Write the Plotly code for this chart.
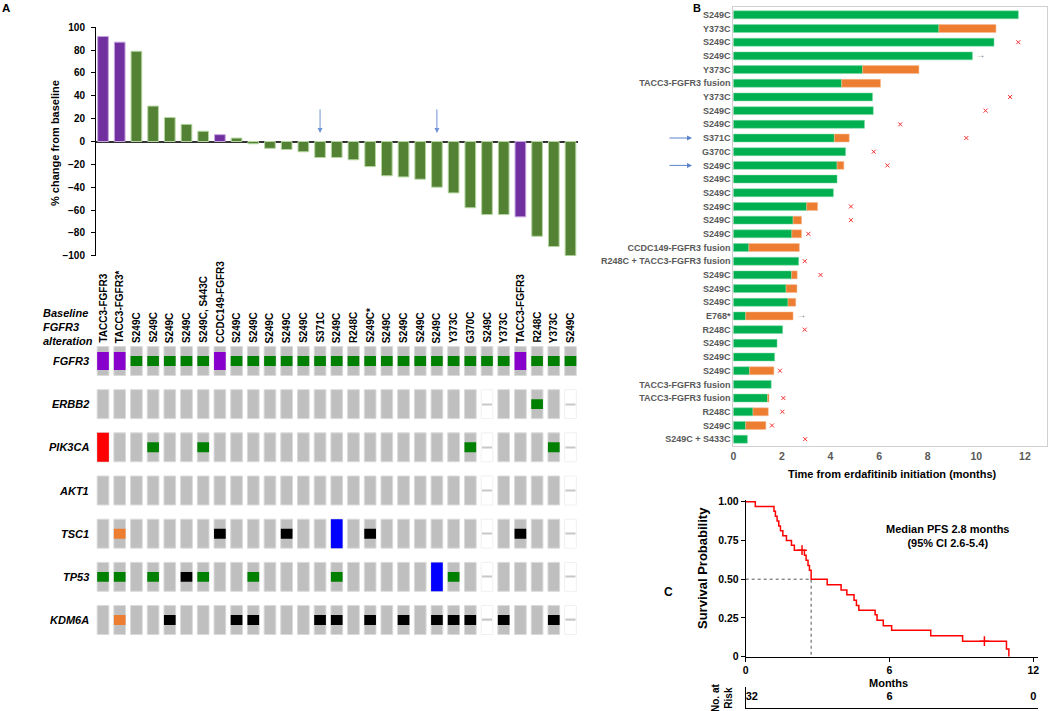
import plotly.graph_objects as go

W, H = 1050, 711
def px(v): return v / W
def py(v): return 1 - v / H

FONT = "Liberation Sans, Arial, Helvetica, sans-serif"

# ---------------- Panel A : waterfall ----------------
col_labels = ["TACC3-FGFR3", "TACC3-FGFR3*", "S249C", "S249C", "S249C", "S249C",
              "S249C, S443C", "CCDC149-FGFR3", "S249C", "S249C", "S249C", "S249C",
              "S249C", "S371C", "S249C", "R248C", "S249C*", "S249C", "S249C", "S249C",
              "S249C", "Y373C", "G370C", "S249C", "Y373C", "TACC3-FGFR3", "R248C",
              "Y373C", "S249C"]
pct_change = [92, 87, 79, 31, 21, 15, 9, 6, 3, -2, -6, -7, -9, -14, -14, -16, -22,
              -30, -31, -33, -40, -45, -58, -64, -64, -66, -83, -92, -100]
arrow_cols = [13, 20]
wf_ticks = [-100, -80, -60, -40, -20, 0, 20, 40, 60, 80, 100]

# ---------------- Panel A : oncoprint ----------------
genes = ["FGFR3", "ERBB2", "PIK3CA", "AKT1", "TSC1", "TP53", "KDM6A"]
alt_FGFR3 = "FFMMMMMFMM" "MMMMMMMMMM" "MMMMMFMMM"
alt_ERBB2 = ".........." ".........." "...-..M.-"
alt_PIK3CA = "A..M..M..." ".........." "..M-...M-"
alt_AKT1 = ".........." ".........." "...-....-"
alt_TSC1 = ".O.....T.." ".T..D.T..." "...-.T..-"
alt_TP53 = "MM.M.TM..M" "....M....." "DM.-....-"
alt_KDM6A = ".O..T...TT" "...TT.T.T." "TTT-T..T-"
alterations = [alt_FGFR3, alt_ERBB2, alt_PIK3CA, alt_AKT1, alt_TSC1, alt_TP53, alt_KDM6A]

# ---------------- Panel B : swimmer ----------------
sw_labels = ["S249C", "Y373C", "S249C", "S249C", "Y373C", "TACC3-FGFR3 fusion", "Y373C",
             "S249C", "S249C", "S371C", "G370C", "S249C", "S249C", "S249C", "S249C",
             "S249C", "S249C", "CCDC149-FGFR3 fusion", "R248C + TACC3-FGFR3 fusion",
             "S249C", "S249C", "S249C", "E768*", "R248C", "S249C", "S249C", "S249C",
             "TACC3-FGFR3 fusion", "TACC3-FGFR3 fusion", "R248C", "S249C", "S249C + S433C"]
sw_green = [11.73, 8.46, 10.73, 9.84, 5.32, 4.46, 5.73, 5.76, 5.40, 4.16, 4.62, 4.27,
            4.27, 4.12, 3.02, 2.46, 2.41, 0.64, 2.69, 2.40, 2.17, 2.25, 0.51, 2.03,
            1.80, 1.70, 0.67, 1.56, 1.41, 0.81, 0.51, 0.58]
sw_orange_end = [None, 10.81, None, None, 7.64, 6.06, None, None, None, 4.77, None, 4.55,
                 None, None, 3.47, 2.81, 2.81, 2.72, None, 2.63, 2.62, 2.57, 2.46, None,
                 None, None, 1.67, None, 1.47, 1.44, 1.34, None]
sw_xmark = [None, None, 11.73, None, None, None, 11.39, 10.38, 6.87, 9.59, 5.78, 6.34,
            None, None, 4.84, 4.84, 3.09, None, 2.94, 3.59, None, None, None, 2.94,
            None, None, 1.92, None, 2.06, 2.02, 1.59, 2.96]
sw_ongoing = [None, None, None, 10.17, None, None, None, None, None, None, None, None,
              None, None, None, None, None, None, None, None, None, None, 2.81, None,
              None, None, None, None, None, None, None, None]
sw_blue_rows = [9, 11]
sw_ticks = [0, 2, 4, 6, 8, 10, 12]

# ---------------- Panel C : Kaplan-Meier ----------------
km_time = [0, 0.40, 1.18, 1.24, 1.31, 1.38, 1.45, 1.55, 1.70, 1.91, 2.03, 2.45, 2.52,
           2.60, 2.66, 2.73, 3.40, 3.98, 4.22, 4.52, 4.62, 4.72, 5.40, 5.48, 5.74,
           6.09, 7.72, 9.05, 10.88, 10.98]
km_surv = [1.00, 0.969, 0.938, 0.906, 0.875, 0.844, 0.813, 0.781, 0.75, 0.719, 0.6875,
           0.655, 0.622, 0.589, 0.557, 0.50, 0.465, 0.43, 0.40, 0.365, 0.33, 0.30, 0.27,
           0.235, 0.20, 0.17, 0.135, 0.10, 0.05, 0.0]
km_censor_t = [2.35, 9.96]
km_censor_s = [0.6875, 0.10]
median_pfs = 2.73
risk_times = [0, 6, 12]
risk_n = [32, 6, 0]

# ---------------- colours ----------------
WF_GREEN, WF_PURPLE = "#548235", "#7030A0"
ONC_GRAY = "#BFBFBF"
code_style = {  # colour, height (row units)
    "M": ("#008000", 0.23),
    "F": ("#8800CC", 0.42),
    "A": ("#FF0000", 0.67),
    "D": ("#0000FF", 0.67),
    "T": ("#000000", 0.23),
    "O": ("#ED7D31", 0.23),
}
SW_GREEN, SW_ORANGE = "#00B050", "#ED7D31"
GRAYTXT = "#595959"

fig = go.Figure()

# ---- waterfall bars
n = len(col_labels)
xs = list(range(n))
is_fusion = ["FGFR3" in lab for lab in col_labels]
fig.add_trace(go.Bar(
    x=xs, y=pct_change, width=0.64, xaxis="x", yaxis="y", showlegend=False,
    marker=dict(color=[WF_PURPLE if f else WF_GREEN for f in is_fusion],
                line=dict(color=["#C7A6DE" if f else "#B5D6A0" for f in is_fusion], width=1)),
))

# ---- oncoprint cells
CELL_H = 0.67
gx, gb, mx, mb = [], [], [], []
for r, s in enumerate(alterations):
    for c, ch in enumerate(s):
        if ch == "-":
            mx.append(c); mb.append(r)
        else:
            gx.append(c); gb.append(r)
fig.add_trace(go.Bar(x=gx, y=[CELL_H] * len(gx), base=[b - CELL_H / 2 for b in gb],
                     width=0.70, xaxis="x2", yaxis="y2", showlegend=False,
                     marker=dict(color=ONC_GRAY, line=dict(color="#DADADA", width=1))))
fig.add_trace(go.Bar(x=mx, y=[CELL_H] * len(mx), base=[b - CELL_H / 2 for b in mb],
                     width=0.70, xaxis="x2", yaxis="y2", showlegend=False,
                     marker=dict(color="white", line=dict(color="#F0F0F0", width=1))))
fig.add_trace(go.Bar(x=mx, y=[0.035] * len(mx), base=[b - 0.0175 for b in mb],
                     width=0.6, xaxis="x2", yaxis="y2", showlegend=False,
                     marker=dict(color="#C8C8C8", line=dict(width=0))))
for code, (colr, hgt) in code_style.items():
    cx, cb = [], []
    for r, s in enumerate(alterations):
        for c, ch in enumerate(s):
            if ch == code:
                cx.append(c); cb.append(r - hgt / 2)
    fig.add_trace(go.Bar(x=cx, y=[hgt] * len(cx), base=cb, width=0.70,
                         xaxis="x2", yaxis="y2", showlegend=False,
                         marker=dict(color=colr, line=dict(width=0))))

# ---- swimmer
rows = list(range(len(sw_labels)))
fig.add_trace(go.Bar(y=rows, x=sw_green, base=[0] * len(rows), orientation="h", width=0.58,
                     xaxis="x3", yaxis="y3", showlegend=False,
                     marker=dict(color=SW_GREEN, line=dict(color="#7FD8A6", width=0.5))))
oy = [r for r, o in zip(rows, sw_orange_end) if o is not None]
ob = [g for g, o in zip(sw_green, sw_orange_end) if o is not None]
ol = [o - g for g, o in zip(sw_green, sw_orange_end) if o is not None]
fig.add_trace(go.Bar(y=oy, x=ol, base=ob, orientation="h", width=0.58,
                     xaxis="x3", yaxis="y3", showlegend=False,
                     marker=dict(color=SW_ORANGE, line=dict(color="#F6BE98", width=0.5))))
fig.add_trace(go.Scatter(
    x=[v for v in sw_xmark if v is not None],
    y=[r for r, v in zip(rows, sw_xmark) if v is not None],
    mode="markers", xaxis="x3", yaxis="y3", showlegend=False,
    marker=dict(symbol="x-thin", size=4, line=dict(color="#F23030", width=1))))
fig.add_trace(go.Scatter(
    x=[v for v in sw_ongoing if v is not None],
    y=[r for r, v in zip(rows, sw_ongoing) if v is not None],
    mode="text", text=["→"] * 2, xaxis="x3", yaxis="y3", showlegend=False,
    textfont=dict(family=FONT, size=10, color="#7F7F7F")))

# ---- KM
fig.add_trace(go.Scatter(x=[0, median_pfs, median_pfs], y=[0.5, 0.5, 0], mode="lines",
                         xaxis="x4", yaxis="y4", showlegend=False,
                         line=dict(color="#555555", width=1, dash="dot")))
fig.add_trace(go.Scatter(x=km_time, y=km_surv, mode="lines", line_shape="hv",
                         xaxis="x4", yaxis="y4", showlegend=False,
                         line=dict(color="#FF0000", width=1.5)))
fig.add_trace(go.Scatter(x=km_censor_t, y=km_censor_s, mode="markers",
                         xaxis="x4", yaxis="y4", showlegend=False, cliponaxis=False,
                         marker=dict(symbol="cross-thin", size=7,
                                     line=dict(color="#FF0000", width=1.5))))
fig.add_trace(go.Scatter(x=risk_times, y=[0.5] * 3, mode="text",
                         text=[str(v) for v in risk_n],
                         textposition=["middle right", "middle center", "middle center"],
                         xaxis="x5", yaxis="y5", showlegend=False, cliponaxis=False,
                         textfont=dict(family=FONT, size=11, color="black", weight="bold")))

# ---------------- layout ----------------
hidden = dict(visible=False, showgrid=False, zeroline=False)
bold10 = dict(family=FONT, size=10, color="black", weight="bold")
common = dict(automargin=False)

fig.update_layout(
    template="none",
    width=W, height=H, margin=dict(l=0, r=0, t=0, b=0, pad=0, autoexpand=False),
    paper_bgcolor="white", plot_bgcolor="white", barmode="overlay",
    font=dict(family=FONT, color="black"), showlegend=False,
    xaxis=dict(domain=[px(96), px(578)], range=[-0.42, 28.45], anchor="y", **hidden, **common),
    yaxis=dict(domain=[py(255.7), py(27.3)], range=[-100, 100], anchor="x",
               tickvals=wf_ticks, ticks="outside", ticklen=4, tickcolor="black",
               showline=True, linecolor="black", linewidth=1, showgrid=False,
               zeroline=True, zerolinecolor="#333333", zerolinewidth=1.5,
               tickfont=bold10, ticklabelstandoff=4, **common),
    xaxis2=dict(domain=[px(96), px(578)], range=[-0.42, 28.45], anchor="y2", **hidden, **common),
    yaxis2=dict(domain=[py(641.6), py(339.4)], range=[6.5, -0.5], anchor="x2", **hidden, **common),
    xaxis3=dict(domain=[px(733.3), px(1047)], range=[0, 12.91], anchor="y3",
                tickvals=sw_ticks, showline=True, mirror=True, linecolor="#D0D0D0",
                showgrid=False, zeroline=False, ticks="",
                tickfont=dict(family=FONT, size=10.5, color=GRAYTXT, weight="bold"), **common),
    yaxis3=dict(domain=[py(446), py(7.3)], range=[31.5, -0.55], anchor="x3",
                tickvals=rows, ticktext=sw_labels, showline=True, mirror=True,
                linecolor="#D0D0D0", showgrid=False, zeroline=False, ticks="",
                tickfont=dict(family=FONT, size=9, color=GRAYTXT, weight="bold"), **common),
    xaxis4=dict(domain=[px(745.7), px(1038.1)], range=[0, 12.2], anchor="y4",
                tickvals=[0, 6, 12], ticks="outside", ticklen=4, tickcolor="black",
                showline=True, linecolor="black", linewidth=1, showgrid=False,
                zeroline=False, tickfont=dict(family=FONT, size=10.5, color="black", weight="bold"),
                **common),
    yaxis4=dict(domain=[py(656.7), py(500.15)], range=[0, 1.01], anchor="x4",
                tickvals=[0, 0.25, 0.5, 0.75, 1.0],
                ticktext=["0", "0.25", "0.50", "0.75", "1.00"],
                ticks="outside", ticklen=4, tickcolor="black",
                showline=True, linecolor="black", linewidth=1, showgrid=False,
                zeroline=False, tickfont=dict(family=FONT, size=10.5, color="black", weight="bold"),
                **common),
    xaxis5=dict(domain=[px(745.7), px(1038.1)], range=[0, 12.2], anchor="y5",
                showline=True, linecolor="black", linewidth=1, showgrid=False,
                zeroline=False, showticklabels=False, ticks="", **common),
    yaxis5=dict(domain=[py(708), py(687)], range=[0, 1], anchor="x5",
                showline=True, linecolor="black", linewidth=1, showgrid=False,
                zeroline=False, showticklabels=False, ticks="", **common),
)

ann = []
def txt(x, y, text, size=11, color="black", xanchor="center", yanchor="middle",
        angle=0, xref="paper", yref="paper", bold=True, italic=False, align="center"):
    ann.append(dict(x=x, y=y, xref=xref, yref=yref, text=text, showarrow=False,
                    xanchor=xanchor, yanchor=yanchor, textangle=angle, align=align,
                    font=dict(family=FONT, size=size, color=color,
                              weight="bold" if bold else "normal",
                              style="italic" if italic else "normal")))

# panel letters
txt(px(6), py(0), "A", size=11.5, yanchor="top")
txt(px(697), py(0), "B", size=11, yanchor="top")
txt(px(668), py(592), "C", size=12)

# waterfall axis title
txt(px(55), py(143), "% change from baseline", size=11, angle=-90)
# arrows in waterfall
for c in arrow_cols:
    ann.append(dict(x=c, y=7.5, xref="x", yref="y", ax=0, ay=-25, showarrow=True,
                    arrowhead=2, arrowsize=1, arrowwidth=1, arrowcolor="#6F93D3", text=""))

# column labels
for i, lab in enumerate(col_labels):
    txt(i, py(345), lab, size=10, angle=-90, xref="x", yanchor="bottom")

# Baseline FGFR3 alteration
for yy, t in zip([313, 327, 341], ["Baseline", "FGFR3", "alteration"]):
    txt(px(41), py(yy), t, size=11, xanchor="left", italic=True)

# gene labels
for r, g in enumerate(genes):
    txt(px(91), r, g, size=11, xanchor="right", yref="y2", italic=True)

# swimmer title and blue arrows
txt(px(892), py(474), "Time from erdafitinib initiation (months)", size=11)
for r in sw_blue_rows:
    ann.append(dict(x=px(692), y=r, xref="paper", yref="y3", ax=-24, ay=0,
                    showarrow=True, arrowhead=2, arrowsize=1, arrowwidth=1,
                    arrowcolor="#5B83CC", text=""))

# KM texts
txt(px(948), py(535.5), "Median PFS 2.8 months<br>(95% CI 2.6-5.4)", size=11)
txt(px(702), py(568), "Survival Probability", size=13, angle=-90)
txt(px(888), py(683), "Months", size=11)
txt(px(722), py(698), "No. at<br>Risk", size=10, angle=-90)

fig.update_layout(annotations=ann)
fig.write_html("out.html",
               config={"displayModeBar": False},
               post_script="document.body.style.margin='0';document.body.style.overflow='hidden';")
